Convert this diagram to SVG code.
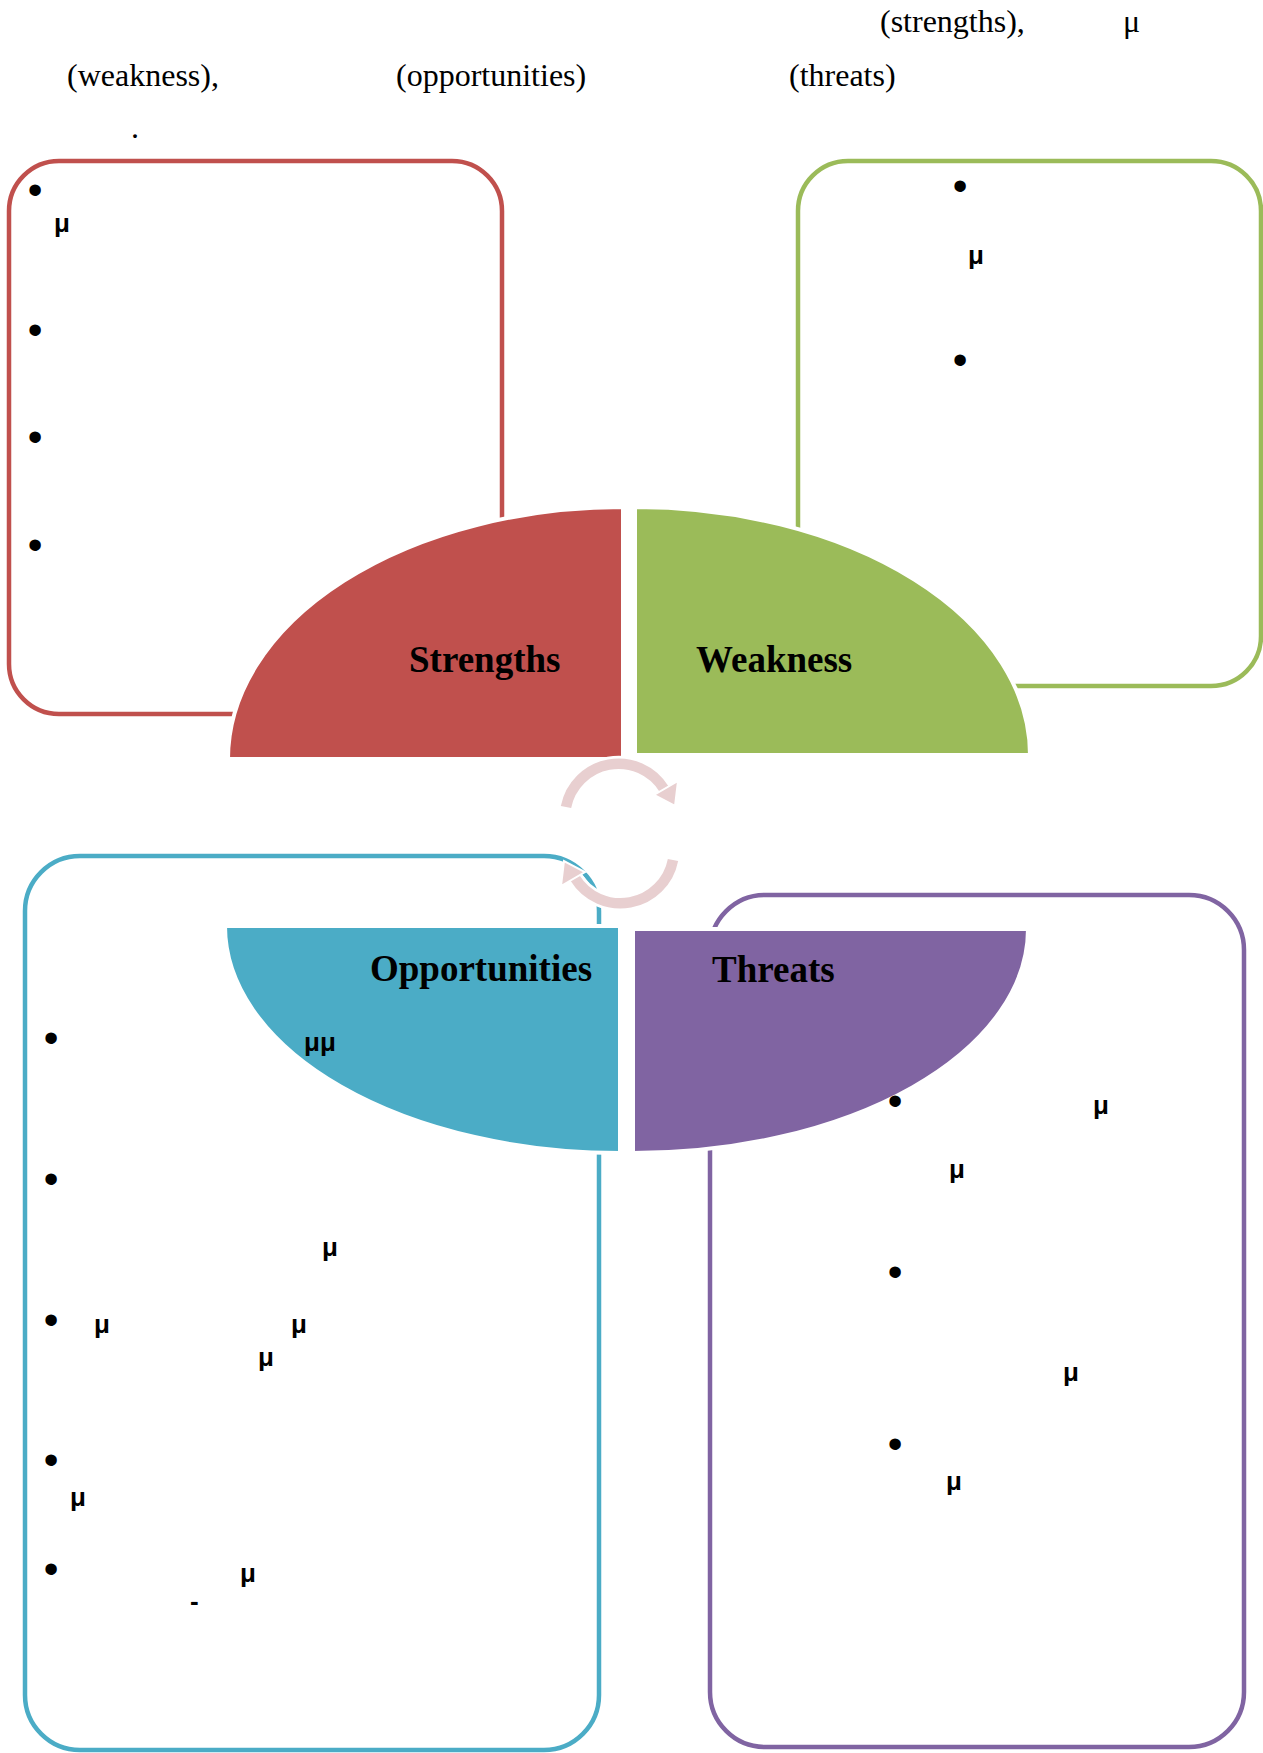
<svg xmlns="http://www.w3.org/2000/svg" width="1263" height="1753" viewBox="0 0 1263 1753">
<style>
.hdr{font-family:"Liberation Serif","Times New Roman",serif;font-size:32px;fill:#000}
.blt{font-family:"Liberation Sans",Arial,sans-serif;font-size:42px;fill:#000;text-anchor:middle}
.mu{font-family:"Liberation Sans",Arial,sans-serif;font-size:26px;font-weight:bold;fill:#000}
.lbl{font-family:"Liberation Serif","Times New Roman",serif;font-size:37px;font-weight:bold;fill:#000}
.box{fill:none;stroke-width:4.5}
.qs{stroke:#fff;stroke-width:4}
.arc{fill:none;stroke:#E8CFD0;stroke-width:10.5}
.arcw{fill:none;stroke:#fff;stroke-width:16}
.ah{fill:#E8CFD0;stroke:#fff;stroke-width:2}
</style>
<rect width="1263" height="1753" fill="#fff"/>
<g id="header">
<text class="hdr" x="880" y="32">(strengths),</text>
<text class="hdr" x="1123" y="32">μ</text>
<text class="hdr" x="67" y="86">(weakness),</text>
<text class="hdr" x="396" y="86">(opportunities)</text>
<text class="hdr" x="789" y="86">(threats)</text>
<text class="hdr" x="131" y="138">.</text>
</g>
<g id="boxes">
<rect id="box-strengths" class="box" x="9" y="161" width="493" height="553" rx="50" stroke="#C0504D"/>
<rect id="box-weakness" class="box" x="798" y="161" width="463" height="525" rx="50" stroke="#9BBB59"/>
<rect id="box-opportunities" class="box" x="25" y="856" width="574" height="894" rx="55" stroke="#4BACC6"/>
<rect id="box-threats" class="box" x="710" y="895" width="534" height="852" rx="55" stroke="#8064A2"/>
</g>
<g id="strengths">
<path class="qs" d="M623,759 L228,759 A395,252 0 0 1 623,507 Z" fill="#C0504D"/>
<text class="lbl" x="409" y="672">Strengths</text>
</g>
<g id="weakness">
<path class="qs" d="M635,755 L635,507 A395,248 0 0 1 1030,755 Z" fill="#9BBB59"/>
<text class="lbl" x="696" y="672">Weakness</text>
</g>
<g id="opportunities">
<path class="qs" d="M620,926 L620,1153 A395,227 0 0 1 225,926 Z" fill="#4BACC6"/>
<text class="lbl" x="370" y="981">Opportunities</text>
</g>
<g id="threats">
<path class="qs" d="M633,929 L1028,929 A395,224 0 0 1 633,1153 Z" fill="#8064A2"/>
<text class="lbl" x="712" y="982">Threats</text>
</g>
<g id="connectors">
<path class="arcw" d="M566,807 A53.5,53.5 0 0 1 664,789"/>
<path class="arcw" d="M673,860 A53.5,53.5 0 0 1 575,878"/>
<path class="arc" d="M566,807 A53.5,53.5 0 0 1 664,789"/>
<path class="arc" d="M673,860 A53.5,53.5 0 0 1 575,878"/>
<polygon class="ah" points="678,781 654,795 675,806"/>
<polygon class="ah" points="561,886 585,872 564,861"/>
</g>
<g id="text-strengths">
<text class="blt" x="35" y="204">•</text>
<text class="blt" x="35" y="344">•</text>
<text class="blt" x="35" y="451">•</text>
<text class="blt" x="35" y="559">•</text>
<text class="mu" x="54" y="232">μ</text>
</g>
<g id="text-weakness">
<text class="blt" x="960" y="200">•</text>
<text class="blt" x="960" y="374">•</text>
<text class="mu" x="968" y="264">μ</text>
</g>
<g id="text-opportunities">
<text class="blt" x="51" y="1052">•</text>
<text class="blt" x="51" y="1193">•</text>
<text class="blt" x="51" y="1334">•</text>
<text class="blt" x="51" y="1474">•</text>
<text class="blt" x="51" y="1583">•</text>
<text class="mu" x="304" y="1051">μμ</text>
<text class="mu" x="322" y="1256">μ</text>
<text class="mu" x="94" y="1333">μ</text>
<text class="mu" x="291" y="1333">μ</text>
<text class="mu" x="258" y="1366">μ</text>
<text class="mu" x="70" y="1506">μ</text>
<text class="mu" x="240" y="1582">μ</text>
<text class="mu" x="190" y="1610">-</text>
</g>
<g id="text-threats">
<text class="blt" x="895" y="1115">•</text>
<text class="blt" x="895" y="1286">•</text>
<text class="blt" x="895" y="1458">•</text>
<text class="mu" x="1093" y="1114">μ</text>
<text class="mu" x="949" y="1178">μ</text>
<text class="mu" x="1063" y="1381">μ</text>
<text class="mu" x="946" y="1490">μ</text>
</g>
</svg>
